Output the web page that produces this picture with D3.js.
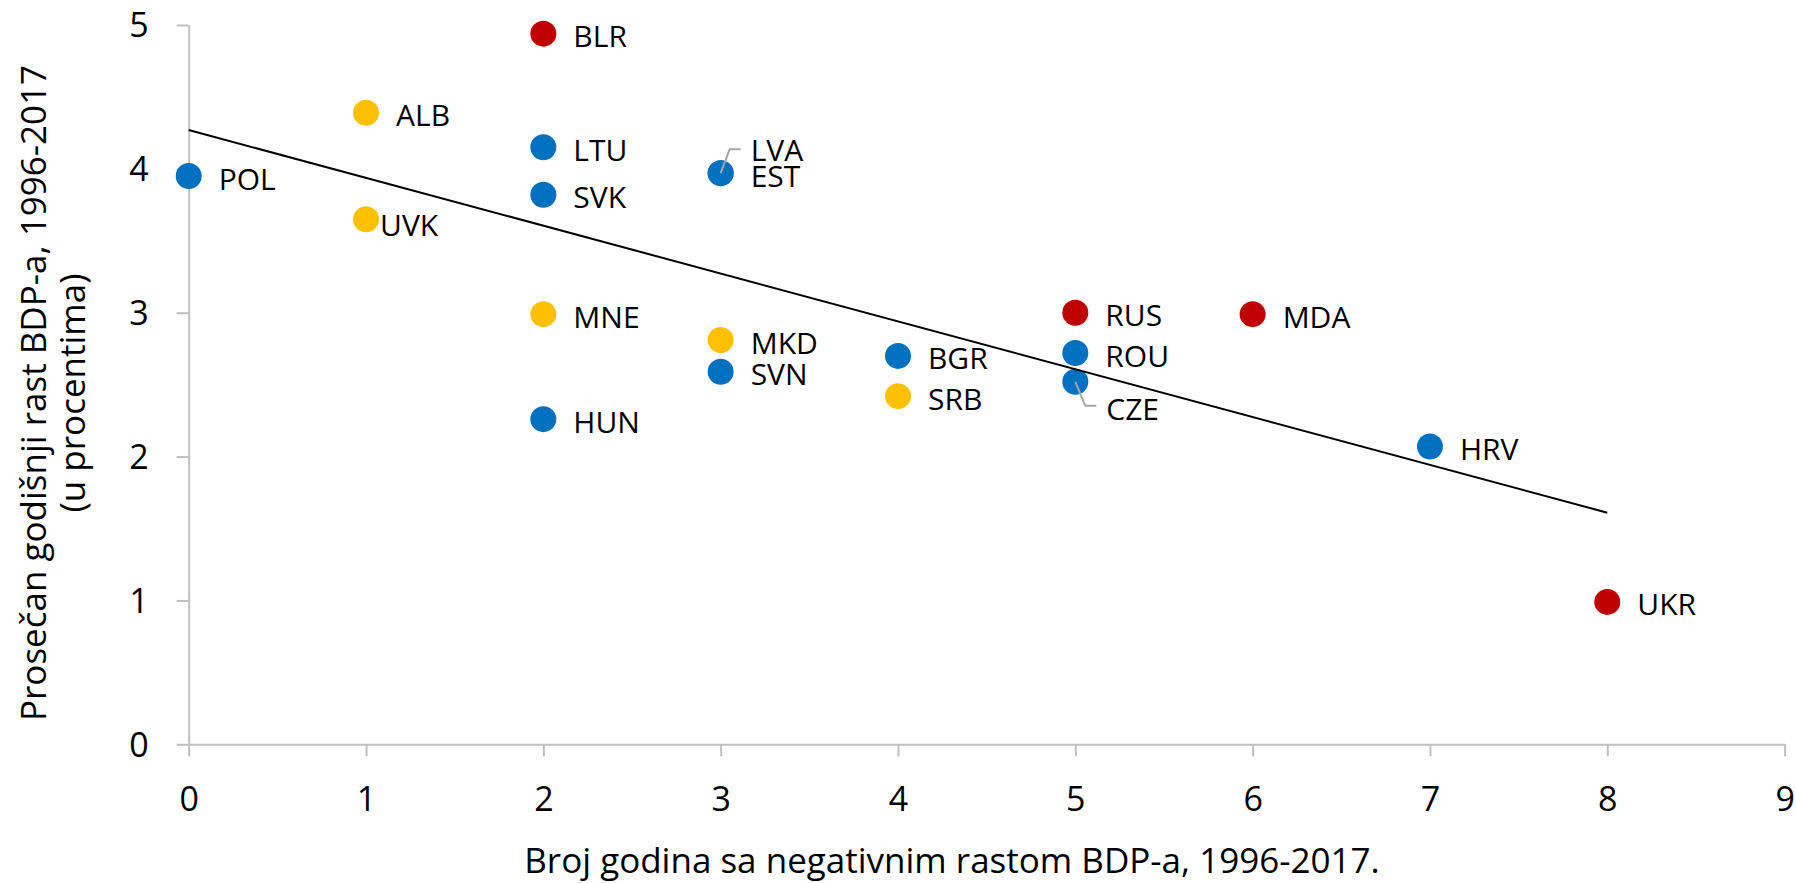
<!DOCTYPE html>
<html>
<head>
<meta charset="utf-8">
<script src="https://d3js.org/d3.v7.min.js"></script>
<style>
  body { margin: 0; background: #fff; }
  text { font-family: "Open Sans", "Noto Sans", sans-serif; fill: #000; }
</style>
</head>
<body>
<svg width="1796" height="883"></svg>
<script>
// country codes, x = years with negative growth, y = avg annual growth
var codes = ["POL", "ALB", "UVK", "BLR", "LTU", "SVK", "MNE", "HUN", "LVA", "EST",
             "MKD", "SVN", "BGR", "SRB", "RUS", "ROU", "CZE", "MDA", "HRV", "UKR"];
var negYears = [0, 1, 1, 2, 2, 2, 2, 2, 3, 3, 3, 3, 4, 4, 5, 5, 5, 6, 7, 8];
var avgGrowth = [3.95, 4.39, 3.65, 4.94, 4.15, 3.82, 2.99, 2.26, 3.97, 3.97,
                 2.81, 2.59, 2.70, 2.42, 3.00, 2.72, 2.52, 2.99, 2.07, 0.99];
var groups = ["eu", "wb", "wb", "cis", "eu", "eu", "wb", "eu", "eu", "eu",
              "wb", "eu", "eu", "wb", "cis", "eu", "eu", "cis", "eu", "cis"];

// trend line end points
var trendX = [0, 8];
var trendY = [4.27, 1.61];

var xTicks = [0, 1, 2, 3, 4, 5, 6, 7, 8, 9];
var yTicks = [0, 1, 2, 3, 4, 5];

var xTitle = "Broj godina sa negativnim rastom BDP-a, 1996-2017.";
var yTitle = ["Prosečan godišnji rast BDP-a, 1996-2017", "(u procentima)"];

var colors = { eu: "#0070C0", wb: "#FFC000", cis: "#C00000" };

// label placement tweaks (dx, dy from point), and leader lines
var labelPos = {
    UVK: [14, 6],
    LVA: [30, -23],
    CZE: [31, 28]
};
var leaders = {
    LVA: [[0, 0], [9, -24], [20, -24]],
    CZE: [[0, 0], [10, 24], [21, 24]]
};

var svg = d3.select("svg");
svg.append("rect").attr("width", 1796).attr("height", 883).attr("fill", "#fff");

var x = d3.scaleLinear().domain([0, 9]).range([188.7, 1784.6]);
var y = d3.scaleLinear().domain([0, 5]).range([744.3, 25]);

var data = codes.map(function (c, i) {
    return { code: c, x: negYears[i], y: avgGrowth[i], group: groups[i] };
});

// X axis
var xAxis = svg.append("g")
    .attr("transform", "translate(0," + y(0) + ")")
    .call(d3.axisBottom(x).tickValues(xTicks).tickSize(12).tickSizeOuter(0).tickFormat(d3.format("d")));
// Y axis
var yAxis = svg.append("g")
    .attr("transform", "translate(" + x(0) + ",0)")
    .call(d3.axisLeft(y).tickValues(yTicks).tickSize(12).tickSizeOuter(0).tickFormat(d3.format("d")));

[xAxis, yAxis].forEach(function (a) {
    a.select(".domain").attr("stroke", "#BFBFBF").attr("stroke-width", 2);
    a.selectAll(".tick line").attr("stroke", "#BFBFBF").attr("stroke-width", 2);
    a.selectAll(".tick text").style("font-size", "34px").attr("fill", "#000")
        .style("font-family", "'Open Sans', sans-serif");
});
xAxis.selectAll(".tick text").attr("y", 55).attr("dy", "0.35em");
yAxis.selectAll(".tick text").attr("x", -40).attr("dy", "0.35em");

// points
svg.append("g").selectAll("circle")
    .data(data)
    .enter().append("circle")
    .attr("cx", function (d) { return x(d.x); })
    .attr("cy", function (d) { return y(d.y); })
    .attr("r", 13)
    .attr("fill", function (d) { return colors[d.group]; });

// leader lines
var lead = svg.append("g");
data.forEach(function (d) {
    if (!leaders[d.code]) return;
    lead.append("polyline")
        .attr("points", leaders[d.code].map(function (p) {
            return (x(d.x) + p[0]) + "," + (y(d.y) + p[1]);
        }).join(" "))
        .attr("fill", "none")
        .attr("stroke", "#A6A6A6")
        .attr("stroke-width", 2);
});

// trend line
svg.append("line")
    .attr("x1", x(trendX[0])).attr("y1", y(trendY[0]))
    .attr("x2", x(trendX[1])).attr("y2", y(trendY[1]))
    .attr("stroke", "#000")
    .attr("stroke-width", 2);

// point labels
svg.append("g").selectAll("text")
    .data(data)
    .enter().append("text")
    .attr("x", function (d) { return x(d.x) + (labelPos[d.code] ? labelPos[d.code][0] : 30); })
    .attr("y", function (d) { return y(d.y) + (labelPos[d.code] ? labelPos[d.code][1] : 3); })
    .attr("dy", "0.35em")
    .style("font-size", "30px")
    .text(function (d) { return d.code; });

// axis titles
svg.append("text")
    .attr("x", 952)
    .attr("y", 873)
    .attr("text-anchor", "middle")
    .style("font-size", "35px")
    .text(xTitle);

var yt = svg.append("text")
    .attr("transform", "translate(0,393) rotate(-90)")
    .attr("text-anchor", "middle")
    .style("font-size", "35px");
yt.append("tspan").attr("x", 0).attr("y", 34).attr("dy", "0.35em").text(yTitle[0]);
yt.append("tspan").attr("x", 0).attr("y", 73).attr("dy", "0.35em").text(yTitle[1]);
</script>
</body>
</html>
